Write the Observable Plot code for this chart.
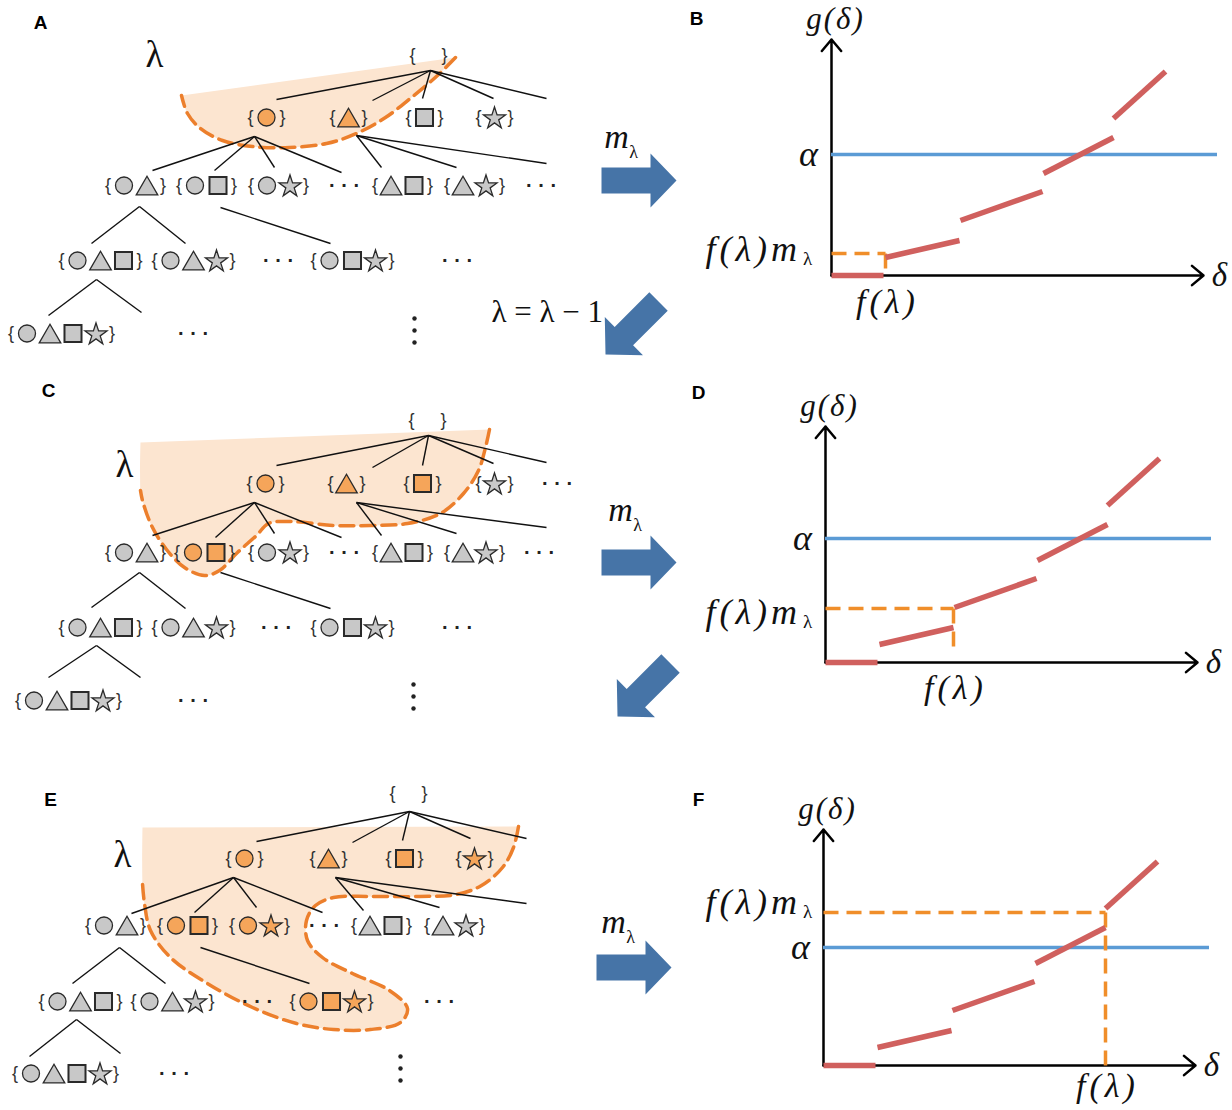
<!DOCTYPE html>
<html><head><meta charset="utf-8">
<script src="https://cdn.jsdelivr.net/npm/d3@7"></script>
<script src="https://cdn.jsdelivr.net/npm/@observablehq/plot@0.6"></script>
<style>
body{margin:0;background:#fff;overflow:hidden}
#fig{position:relative;width:1232px;height:1110px;overflow:hidden;background:#fff}
#fig svg{position:absolute;max-width:none}
</style>
</head><body><div id="fig"></div>
<script>
// ================= DATA =================
const panelLetters = ["A","B","C","D","E","F"];
const lambdaText = "λ";
const stepText = "λ = λ − 1";
const mText = "m", subText = "λ";
// set members: c = circle, t = triangle, s = square, p = star ; "…" = dots, "⋮" = vertical dots
// [x, y, members, highlighted members]
const nodesA = [
  [428,55,"",""],
  [266,117,"c","c"],[348,117,"t","t"],[424,117,"s",""],[494,117,"p",""],
  [135,185,"ct",""],[206,185,"cs",""],[278,185,"cp",""],[344,185,"…",""],[402,185,"ts",""],[474,185,"tp",""],[541,185,"…",""],
  [100,260,"cts",""],[193,260,"ctp",""],[278,260,"…",""],[352,260,"csp",""],[457,260,"…",""],
  [61,333,"ctsp",""],[193,333,"…",""],[414,330,"⋮",""]
];
const nodesC = [
  [427,420,"",""],
  [265,483,"c","c"],[346,483,"t","t"],[422,483,"s","s"],[494,483,"p",""],[557,483,"…",""],
  [135,552,"ct",""],[204,552,"cs","cs"],[278,552,"cp",""],[344,552,"…",""],[402,552,"ts",""],[474,552,"tp",""],[539,552,"…",""],
  [100,627,"cts",""],[193,627,"ctp",""],[276,627,"…",""],[352,627,"csp",""],[457,627,"…",""],
  [68,700,"ctsp",""],[193,700,"…",""],[413,696,"⋮",""]
];
const nodesE = [
  [408,793,"",""],
  [244,858,"c","c"],[328,858,"t","t"],[404,858,"s","s"],[474,858,"p","p"],
  [115,925,"ct",""],[187,925,"cs","cs"],[259,925,"cp","cp"],[324,925,"…",""],[381,925,"ts",""],[454,925,"tp",""],
  [80,1001,"cts",""],[172,1001,"ctp",""],[257,1001,"…",""],[331,1001,"csp","csp"],[439,1001,"…",""],
  [65,1073,"ctsp",""],[174,1073,"…",""],[400,1068,"⋮",""]
];
// tree edges [x1,y1,x2,y2]
const edgesA = [
  [430,70,276,99],[430,70,372,100],[430,70,422,98],[430,70,493,98],[430,70,546,98],
  [254,136,152,170],[254,136,214,170],[254,136,274,167],[254,136,341,172],
  [356,135,381,167],[356,135,456,167],[356,135,546,163],
  [139,206,91,243],[139,206,185,243],[220,207,330,243],
  [96,279,48,315],[96,279,141,312]
];
const edgesC = [
  [428,435,276,465],[428,435,372,467],[428,435,422,465],[428,435,493,463],[428,435,546,462],
  [254,502,152,535],[254,502,215,537],[254,502,274,533],[254,502,341,537],
  [356,502,381,535],[356,502,456,533],[356,502,546,527],
  [139,572,91,607],[139,572,185,608],[220,572,330,608],
  [96,645,48,677],[96,645,140,677]
];
const edgesE = [
  [409,811,256,841],[409,811,352,842],[409,811,402,840],[409,811,470,838],[409,811,526,838],
  [233,877,131,913],[233,877,194,912],[233,877,256,907],[233,877,322,912],
  [335,877,363,910],[335,877,439,907],[335,877,526,903],
  [119,947,72,983],[119,947,165,983],[200,947,309,983],
  [76,1019,29,1056],[76,1019,120,1053]
];
// λ-region outlines [x, y, dashed?]
const hullA = [[455,57,1],[437,75,1],[411,97,1],[385,117,1],[356,133,1],[326,143,1],[289,147,1],[252,146,1],[222,140,1],[200,128,1],[187,113,1],[181,95,1]];
const hullC = [[489,429,1],[485,447,1],[478,470,1],[463,493,1],[440,513,1],[407,523,1],[370,525,1],[333,525,1],[290,521,1],[268,523,1],[256,535,1],[237,552,1],[219,570,1],[204,575,1],[184,567,1],[166,549,1],[151,525,1],[142,500,1],[140,490,1],[140,442,0]];
const hullE = [[518,826,1],[513,847,1],[502,867,1],[481,885,1],[456,894,1],[419,896,1],[370,896,1],[333,897,1],[315,905,1],[306,920,1],[307,940,1],[322,957,1],[352,973,1],[389,990,1],[407,1008,1],[400,1022,1],[370,1029,1],[333,1029,1],[296,1023,1],[252,1007,1],[207,983,1],[170,957,1],[150,930,1],[144,903,1],[142,883,1],[142,827,0]];

// g(δ) pieces [δ1, g1, δ2, g2]  (same function in B, D, F)
const gPieces = [[0,0,52,0],[54,18,128,35],[129,55,211,84],[212,102,282,138],[282,157,334,204]];
const graphIds = ["B","D","F"];
const alphaVals = [121,124,118];
const fLambdaVals = [54,128,282];
const fmVals = [22,54,153];
const fmFloor = [0,8,0];
const gLabel = "g(δ)", alphaLabel = "α", fmLabel = "f(λ)m", fLabel = "f(λ)", deltaLabel = "δ";

// ================= LAYOUT =================
const letterXY = [[40,22],[696,18],[48,390],[698,392],[50,799],[698,799]];
const lambdaXY = [[154,55],[124,465],[122,855]];
const mXY = [[616,137],[620,510],[613,922]];
const stepXY = [491,312];
const arrowTips = [[676,180,0],[605,354,135],[676,562,0],[617,716,135],[671,967,0]];
const arrowShape = [[-75,-13],[-26,-13],[-26,-27],[0,0],[-26,27],[-26,13],[-75,13]];
const graphOrigin = [[831,275],[825,662],[823,1065]];
const fmLabelG = [26,50,163];
const fLabelG = [-27,-26,-21];
const fmLabelStart = 705; // absolute x where the f(λ)m labels start

const ORANGE = "#f5a55a", GRAY = "#c8c8c8";
const fig = document.getElementById("fig");

// ---------- tree expansion ----------
const SP = 23, BO = 16;
const braces = [], shapes = [], hdots = [], vdots = [];
for (const list of [nodesA, nodesC, nodesE]) {
  for (const [x,y,set,hl] of list) {
    if (set === "…") { hdots.push({x,y}); continue; }
    if (set === "⋮") { vdots.push({x,y}); continue; }
    const n = set.length, half = (n-1)*SP/2, off = n ? half + BO : 16;
    braces.push({x:x-off,y,t:"{"},{x:x+off,y,t:"}"});
    [...set].forEach((k,i) => shapes.push({x:x-half+i*SP, y, k, fill: hl.includes(k) ? ORANGE : GRAY}));
  }
}
const edges = [...edgesA, ...edgesC, ...edgesE];
const hullPts = [["A",hullA],["C",hullC],["E",hullE]].flatMap(([p,h]) => h.map(([x,y,d]) => ({p,x,y,d})));
const arrowPts = arrowTips.flatMap(([tx,ty,ang],i) => {
  const th = ang*Math.PI/180, c = Math.cos(th), s = Math.sin(th);
  return arrowShape.map(([u,v]) => ({id:i, x: tx + u*c - v*s, y: ty + u*s + v*c}));
});
const SYM = {
  c:{symbol:"circle", r:8.5, dy:0, sw:1.3},
  t:{symbol:"triangle", r:8, dy:3.2, sw:1.3},
  s:{symbol:"square", r:9.6, dy:0, sw:2},
  p:{symbol:"star", r:6.9, dy:1, sw:1.3}
};

const bg = Plot.plot({
  width:1232, height:1110, margin:0,
  x:{domain:[0,1232], range:[0,1232], axis:null},
  y:{domain:[0,1110], range:[0,1110], axis:null},
  color:{type:"identity"},
  style:{background:"white"},
  marks:[
    Plot.line(hullPts, {x:"x", y:"y", z:"p", curve:"catmull-rom", fill:"#fce5d0", stroke:"none"}),
    Plot.line(hullPts.filter(d=>d.d), {x:"x", y:"y", z:"p", curve:"catmull-rom", stroke:"#ec7f2c", strokeWidth:3.5, strokeDasharray:"14,7"}),
    Plot.link(edges, {x1:d=>d[0], y1:d=>d[1], x2:d=>d[2], y2:d=>d[3], stroke:"#111", strokeWidth:1.4}),
    Plot.text(braces, {x:"x", y:"y", text:"t", fontFamily:"Liberation Sans", fontSize:18, fill:"#333"}),
    ...Object.entries(SYM).map(([k,s]) => Plot.dot(shapes.filter(d=>d.k===k), {x:"x", y:"y", r:s.r, symbol:s.symbol, dy:s.dy, fill:"fill", stroke:"#2a2a2a", strokeWidth:s.sw})),
    Plot.text(hdots, {x:"x", y:"y", text:()=>"· · ·", fontFamily:"Liberation Sans", fontWeight:"bold", fontSize:20, fill:"#222"}),
    ...[-12,0,12].map(o => Plot.dot(vdots, {x:"x", y:"y", dy:o, r:2.2, fill:"#222", stroke:"none"})),
    Plot.text(panelLetters, {x:(d,i)=>letterXY[i][0], y:(d,i)=>letterXY[i][1], text:d=>d, fontFamily:"Liberation Sans", fontWeight:"bold", fontSize:19, fill:"#000"}),
    Plot.text(lambdaXY, {x:d=>d[0], y:d=>d[1], text:()=>lambdaText, fontFamily:"Liberation Serif", fontSize:37, fill:"#111"}),
    Plot.line(arrowPts, {x:"x", y:"y", z:"id", curve:"linear-closed", fill:"#4674a7", stroke:"none"}),
    Plot.text(mXY, {x:d=>d[0], y:d=>d[1], text:()=>mText, fontFamily:"Liberation Serif", fontStyle:"italic", fontSize:34, fill:"#111"}),
    Plot.text(mXY, {x:d=>d[0]+17, y:d=>d[1]+15, text:()=>subText, fontFamily:"Liberation Serif", fontSize:18, fill:"#111"}),
    Plot.text([stepText], {x:stepXY[0], y:stepXY[1], text:d=>d, textAnchor:"start", fontFamily:"Liberation Serif", fontSize:31, fill:"#111"})
  ]
});
bg.style.left = "0px"; bg.style.top = "0px";
fig.appendChild(bg);

// ---------- graphs ----------
const ML = 150, MT = 40, XW = 370, YH = 236;
graphIds.forEach((id, i) => {
  const alpha = alphaVals[i], fl = fLambdaVals[i], fm = fmVals[i];
  const ox = graphOrigin[i][0];
  const axes = [{x1:0,y1:0,x2:XW+2,y2:0},{x1:0,y1:0,x2:0,y2:YH}];
  const orange = [{x1:0,y1:fm,x2:fl,y2:fm},{x1:fl,y1:fm,x2:fl,y2:fmFloor[i]}];
  const mathFont = {fontFamily:"Liberation Serif", fontStyle:"italic", fill:"#111"};
  const svg = Plot.plot({
    width:560, height:340, margin:0,
    x:{domain:[0,XW], range:[ML, ML+XW], axis:null},
    y:{domain:[0,YH], range:[MT+YH, MT], axis:null},
    style:{background:"transparent", overflow:"visible"},
    marks:[
      Plot.arrow(axes, {x1:"x1", y1:"y1", x2:"x2", y2:"y2", stroke:"#000", strokeWidth:2.5, headLength:9, headAngle:80}),
      Plot.ruleY([alpha], {x1:0, x2:386, stroke:"#5b9bd5", strokeWidth:3.5}),
      Plot.link(orange, {x1:"x1", y1:"y1", x2:"x2", y2:"y2", stroke:"#f08e2a", strokeWidth:3.5, strokeDasharray:"15,8"}),
      Plot.link(gPieces, {x1:d=>d[0], y1:d=>d[1], x2:d=>d[2], y2:d=>d[3], stroke:"#d0605e", strokeWidth:5.5}),
      Plot.text([gLabel], {x:4, y:YH+20, text:d=>d, fontSize:31, ...mathFont}),
      Plot.text([alphaLabel], {x:-23, y:alpha, text:d=>d, fontSize:36, ...mathFont}),
      Plot.text([fmLabel], {x:fmLabelStart-ox, y:fmLabelG[i], text:d=>d, textAnchor:"start", fontSize:36, ...mathFont}),
      Plot.text([subText], {x:fmLabelStart-ox+102, y:fmLabelG[i]-9, text:d=>d, fontSize:19, fontFamily:"Liberation Serif", fill:"#111"}),
      Plot.text([fLabel], {x:fl+2, y:fLabelG[i], text:d=>d, fontSize:34, ...mathFont}),
      Plot.text([deltaLabel], {x:388, y:0, text:d=>d, fontSize:33, ...mathFont})
    ]
  });
  svg.querySelectorAll("text").forEach(t => {
    if (t.textContent === gLabel) t.setAttribute("letter-spacing", 2);
    if (t.textContent === fmLabel) t.setAttribute("letter-spacing", 4);
    if (t.textContent === fLabel) t.setAttribute("letter-spacing", 4);
  });
  svg.style.left = (ox - ML) + "px";
  svg.style.top = (graphOrigin[i][1] - YH - MT) + "px";
  fig.appendChild(svg);
});
</script>
</body></html>
